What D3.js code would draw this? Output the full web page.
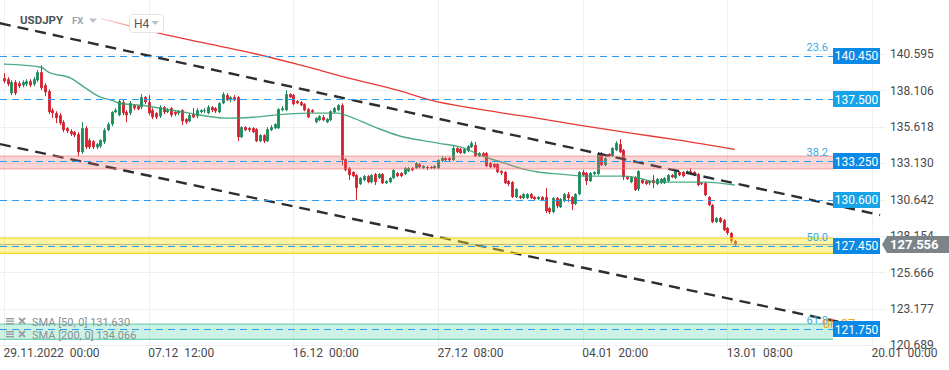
<!DOCTYPE html>
<html>
<head>
<meta charset="utf-8">
<script src="https://cdn.jsdelivr.net/npm/d3@7"></script>
<style>
  body { margin: 0; background: #fff; }
  svg { display: block; font-family: Roboto, "Noto Sans", sans-serif; }
</style>
</head>
<body>
<svg id="chart" width="949" height="370"></svg>
<script>
// USDJPY H4 candles
const opens = [
  138.94, 138.87, 137.91, 138.67, 138.60, 138.46, 138.53, 138.73, 138.53, 138.80,
  139.35, 138.46, 138.05, 136.75, 136.55, 136.41, 135.93, 135.52, 135.32, 135.25,
  135.11, 133.88, 135.52, 134.70, 134.63, 134.22, 134.29, 134.57, 135.39, 135.80,
  136.62, 136.41, 137.30, 136.62, 136.55, 137.09, 137.03, 136.96, 137.64, 137.30,
  136.75, 136.55, 136.34, 136.96, 136.62, 136.89, 136.62, 136.55, 136.75, 136.14,
  136.00, 136.48, 136.34, 136.62, 136.68, 136.55, 136.96, 136.89, 136.62, 137.23,
  137.78, 137.44, 137.64, 137.64, 134.91, 135.59, 135.52, 135.52, 135.45, 134.63,
  135.04, 134.63, 135.39, 135.52, 135.52, 136.75, 136.75, 137.85, 137.78, 137.37,
  137.30, 137.16, 136.82, 136.75, 135.93, 136.07, 136.27, 135.93, 136.07, 136.62,
  136.75, 137.09, 133.40, 132.79, 132.52, 132.31, 131.70, 131.97, 132.24, 131.83,
  132.38, 132.11, 132.38, 131.76, 131.83, 132.11, 132.45, 132.45, 132.38, 132.58,
  132.79, 132.79, 133.06, 132.79, 132.86, 132.86, 132.79, 132.79, 133.27, 133.47,
  133.47, 133.34, 134.16, 134.09, 133.81, 133.95, 134.22, 134.36, 133.61, 133.81,
  133.81, 133.13, 133.06, 133.06, 132.58, 132.52, 131.90, 131.83, 130.81, 130.87,
  130.74, 130.74, 131.01, 130.81, 130.67, 130.81, 130.81, 130.05, 129.78, 130.74,
  130.12, 130.53, 131.01, 130.81, 130.33, 131.01, 132.52, 132.45, 131.90, 132.38,
  132.38, 133.81, 132.99, 133.75, 133.61, 134.02, 134.43, 134.02, 132.17, 131.83,
  132.17, 131.35, 131.97, 131.90, 131.76, 131.97, 131.70, 131.76, 131.76, 131.90,
  132.31, 132.11, 132.52, 132.52, 132.45, 132.58, 132.52, 132.38, 131.76, 131.76,
  130.81, 130.26, 129.10, 129.37, 129.23, 128.69, 128.35, 127.80
];
const highs = [
  139.28, 139.01, 138.80, 138.80, 138.73, 138.80, 138.87, 138.87, 139.01, 139.49,
  139.83, 138.60, 138.19, 136.89, 136.68, 136.55, 136.07, 135.59, 135.45, 135.32,
  135.25, 135.93, 135.66, 134.84, 134.70, 134.50, 134.77, 135.52, 135.93, 136.68,
  136.89, 137.50, 137.44, 136.75, 137.37, 137.16, 137.09, 137.85, 137.71, 137.78,
  136.89, 136.62, 137.09, 137.03, 136.89, 136.96, 136.68, 136.75, 136.82, 136.21,
  136.55, 136.89, 136.89, 136.82, 136.89, 137.09, 137.03, 136.96, 137.30, 137.98,
  137.91, 137.71, 137.78, 137.71, 135.66, 135.66, 135.59, 135.59, 135.52, 135.11,
  135.11, 135.59, 135.73, 135.86, 136.89, 137.03, 138.12, 137.91, 137.85, 137.44,
  137.37, 137.23, 136.89, 136.82, 136.27, 136.41, 136.41, 136.21, 136.75, 136.96,
  137.16, 137.23, 133.47, 132.86, 132.58, 132.38, 132.17, 132.31, 132.31, 132.38,
  132.45, 132.45, 132.45, 131.97, 132.17, 132.72, 132.52, 132.52, 132.86, 132.86,
  132.86, 133.20, 133.13, 132.99, 132.93, 132.93, 132.99, 133.40, 133.61, 133.54,
  133.54, 134.29, 134.22, 134.16, 134.16, 134.36, 134.63, 134.57, 133.88, 133.88,
  133.88, 133.20, 133.13, 133.13, 132.65, 132.58, 131.97, 131.90, 131.42, 130.94,
  131.08, 131.08, 131.08, 130.87, 130.87, 130.87, 131.42, 130.12, 130.81, 130.81,
  130.74, 131.08, 131.15, 130.87, 131.08, 132.58, 132.65, 132.52, 132.52, 132.58,
  133.88, 133.88, 133.54, 133.81, 134.22, 134.63, 134.77, 134.09, 132.24, 132.24,
  132.24, 132.65, 132.04, 131.97, 131.97, 132.31, 132.11, 132.11, 132.17, 132.38,
  132.38, 132.65, 132.58, 132.58, 132.65, 132.79, 132.58, 132.45, 131.83, 131.83,
  130.87, 130.33, 129.44, 129.44, 129.30, 128.76, 128.41, 127.87
];
const lows = [
  138.60, 138.39, 137.78, 137.78, 138.26, 138.32, 138.39, 138.32, 138.39, 138.67,
  138.12, 137.71, 136.48, 136.21, 135.86, 135.73, 135.25, 135.18, 134.98, 134.91,
  133.61, 133.75, 134.09, 134.09, 134.09, 134.09, 134.16, 134.43, 135.32, 135.66,
  136.55, 136.34, 136.41, 135.93, 136.41, 136.75, 136.75, 136.82, 137.16, 136.41,
  136.14, 136.14, 136.21, 136.48, 136.55, 136.27, 136.34, 136.41, 135.73, 135.80,
  135.93, 136.21, 136.21, 136.55, 136.55, 136.48, 136.62, 136.55, 136.55, 137.16,
  137.37, 137.30, 137.37, 134.63, 134.84, 135.32, 135.25, 135.18, 134.57, 134.57,
  134.50, 134.57, 135.32, 135.45, 135.45, 136.68, 136.68, 137.57, 137.09, 137.16,
  137.03, 136.68, 136.21, 136.55, 135.86, 136.00, 136.00, 135.86, 136.00, 136.55,
  136.68, 132.99, 132.58, 131.97, 132.17, 130.60, 131.63, 131.90, 131.76, 131.76,
  131.63, 132.04, 131.70, 131.70, 131.76, 132.04, 132.17, 132.17, 132.31, 132.52,
  132.58, 132.72, 132.79, 132.72, 132.65, 132.72, 132.72, 132.72, 133.20, 133.27,
  133.27, 133.27, 133.81, 133.75, 133.75, 133.88, 134.16, 133.54, 133.54, 133.54,
  132.86, 132.79, 132.79, 132.45, 132.31, 131.70, 131.56, 130.74, 130.74, 130.67,
  130.67, 130.67, 130.67, 130.60, 130.60, 130.53, 129.71, 129.64, 129.71, 130.05,
  130.05, 130.46, 130.46, 129.92, 130.26, 130.94, 132.24, 131.63, 131.83, 132.31,
  132.31, 132.93, 132.93, 133.54, 133.54, 133.95, 133.81, 131.97, 131.97, 131.76,
  131.22, 131.22, 131.70, 131.63, 131.63, 131.42, 131.63, 131.70, 131.70, 131.83,
  132.11, 132.04, 132.24, 132.17, 132.38, 132.38, 132.24, 131.56, 131.63, 130.87,
  130.19, 129.03, 129.03, 129.03, 128.48, 128.21, 127.66, 127.46
];
const closes = [
  138.73, 138.53, 138.67, 137.91, 138.39, 138.67, 138.73, 138.46, 138.87, 139.35,
  138.26, 137.98, 136.62, 136.55, 136.21, 135.86, 135.39, 135.32, 135.11, 135.04,
  133.88, 135.52, 134.22, 134.22, 134.22, 134.43, 134.70, 135.39, 135.80, 136.62,
  136.75, 137.37, 136.55, 136.41, 137.23, 136.89, 136.82, 137.64, 137.30, 136.55,
  136.27, 136.27, 136.96, 136.62, 136.75, 136.41, 136.48, 136.68, 136.00, 135.93,
  136.41, 136.27, 136.75, 136.75, 136.75, 136.96, 136.75, 136.68, 137.23, 137.85,
  137.44, 137.64, 137.44, 134.91, 135.59, 135.39, 135.39, 135.25, 134.63, 135.04,
  134.63, 135.45, 135.59, 135.80, 136.82, 136.89, 137.85, 137.64, 137.16, 137.23,
  137.09, 136.75, 136.27, 136.62, 136.21, 136.34, 136.07, 136.14, 136.68, 136.89,
  137.09, 133.34, 132.65, 132.31, 132.24, 131.42, 132.11, 132.24, 131.83, 132.31,
  131.83, 132.38, 131.76, 131.90, 132.11, 132.65, 132.24, 132.24, 132.79, 132.79,
  132.65, 133.13, 132.86, 132.93, 132.79, 132.79, 132.93, 133.34, 133.47, 133.34,
  133.34, 134.16, 133.88, 133.81, 134.09, 134.29, 134.50, 133.61, 133.81, 133.61,
  132.93, 132.86, 132.86, 132.52, 132.45, 131.76, 131.70, 130.81, 131.35, 130.74,
  131.01, 131.01, 130.74, 130.67, 130.81, 130.60, 129.85, 129.78, 130.74, 130.19,
  130.67, 131.01, 130.74, 130.33, 131.01, 132.52, 132.31, 131.90, 132.45, 132.52,
  133.81, 132.99, 133.47, 133.61, 134.16, 134.50, 133.88, 132.17, 132.04, 132.17,
  131.29, 132.58, 131.76, 131.70, 131.90, 131.76, 132.04, 132.04, 132.11, 132.31,
  132.17, 132.58, 132.31, 132.24, 132.58, 132.45, 132.31, 131.63, 131.70, 130.94,
  130.26, 129.10, 129.37, 129.10, 128.55, 128.35, 127.80, 127.556
];

// moving averages, sampled along the lines [candle index, price]
const sma50Idx = [0, 10, 12, 18, 22, 26, 29, 31, 37, 42, 47, 50, 60, 67, 76, 83, 90, 92, 100, 106, 117, 124, 129, 135, 139, 144, 150, 157, 167, 171, 176, 184, 189, 197];
const sma50Vals = [139.90, 139.69, 139.35, 138.94, 138.26, 137.64, 137.44, 137.23, 137.09, 136.89, 136.68, 136.55, 136.21, 136.27, 136.48, 136.55, 136.55, 136.41, 135.59, 135.04, 134.50, 134.16, 133.61, 133.13, 132.79, 132.52, 132.38, 132.24, 132.24, 132.11, 131.83, 131.83, 131.83, 131.63];
const sma200Idx = [26, 42, 53, 66, 80, 93, 107, 115, 128, 142, 155, 169, 182, 197];
const sma200Vals = [143.04, 142.01, 141.40, 140.71, 139.83, 138.94, 138.05, 137.44, 136.82, 136.27, 135.73, 135.18, 134.70, 134.07];

// drawn trend channel [candle index, price]
const trendUpper = [[-1.1, 142.70], [236.2, 129.58]];
const trendLower = [[-1.1, 134.43], [236.2, 121.67]];

// horizontal levels and zones
const levels = [140.450, 137.500, 133.250, 130.600, 127.450, 121.750];
const fibNames = ['23.6', '38.2', '50.0', '61.8'];
const fibPrices = [140.450, 133.250, 127.450, 121.750];
const zonePink = [133.61, 132.74];
const zoneYellow = [128.00, 126.96];
const zoneGreen = [122.12, 121.07];
const lastPrice = 127.556;

const priceTicks = [140.595, 138.106, 135.618, 133.130, 130.642, 128.154, 125.666, 123.177, 120.689];
const timeIdx = [0, 39, 78, 117, 156, 195, 234];
const timeLabels = ['29.11.2022  00:00', '07.12  12:00', '16.12  00:00', '27.12  08:00', '04.01  20:00', '13.01  08:00', '20.01  00:00'];

const legendRows = ['SMA [50, 0] 131.630', 'SMA [200, 0] 134.066'];

const UP = '#1a8a5b', DOWN = '#d3202d';

function drawChart() {
  let svg = d3.select('#chart');
  let x = d3.scaleLinear().domain([0, 234]).range([4, 872]);
  let y = d3.scaleLinear().domain([120.689, 140.595]).range([345, 54]);

  // grid
  let grid = svg.append('g').attr('stroke', '#efefef').attr('stroke-width', 1);
  priceTicks.forEach(p => {
    let yy = Math.round(y(p)) + 0.5;
    grid.append('line').attr('x1', 0).attr('x2', 886).attr('y1', yy).attr('y2', yy);
  });
  timeIdx.forEach(t => {
    let xx = Math.round(x(t)) + 0.5;
    grid.append('line').attr('x1', xx).attr('x2', xx).attr('y1', 0).attr('y2', 348);
  });

  // price axis
  let yAxis = svg.append('g').attr('transform', 'translate(886,0)')
    .call(d3.axisRight(y).tickValues(priceTicks).tickSize(0).tickPadding(4).tickFormat(d => d.toFixed(3)));
  yAxis.select('.domain').remove();
  yAxis.selectAll('text').attr('font-size', 12).attr('font-family', 'Roboto, sans-serif').attr('fill', '#4a4a4a');

  // time axis
  let xAxis = svg.append('g').attr('transform', 'translate(0,346)')
    .call(d3.axisBottom(x).tickValues(timeIdx).tickSize(0).tickPadding(2).tickFormat((d, i) => timeLabels[i]));
  xAxis.select('.domain').remove();
  xAxis.selectAll('text').attr('text-anchor', 'start').attr('dx', -1)
    .attr('font-size', 12).attr('font-family', 'Roboto, sans-serif').attr('fill', '#4a4a4a')
    .style('white-space', 'pre');

  // candles
  let candles = svg.append('g');
  closes.forEach((c, i) => {
    let o = opens[i];
    let color = c >= o ? UP : DOWN;
    let cx = Math.round(x(i)) + 0.5;
    candles.append('line').attr('x1', cx).attr('x2', cx)
      .attr('y1', y(highs[i])).attr('y2', y(lows[i]))
      .attr('stroke', color).attr('stroke-width', 1);
    let top = y(Math.max(o, c));
    let h = Math.max(1, Math.abs(y(o) - y(c)));
    candles.append('rect').attr('x', cx - 1.4).attr('width', 2.8)
      .attr('y', top).attr('height', h).attr('fill', color);
  });

  // moving averages
  let line = d3.line().x(d => x(d[0])).y(d => y(d[1])).curve(d3.curveMonotoneX);
  let defs = svg.append('defs');
  let grad = defs.append('linearGradient').attr('id', 'fadeRed')
    .attr('gradientUnits', 'userSpaceOnUse')
    .attr('x1', x(26)).attr('x2', x(44)).attr('y1', 0).attr('y2', 0);
  grad.append('stop').attr('offset', 0).attr('stop-color', '#e53935').attr('stop-opacity', 0.15);
  grad.append('stop').attr('offset', 1).attr('stop-color', '#e53935').attr('stop-opacity', 1);

  svg.append('path').datum(d3.zip(sma200Idx, sma200Vals)).attr('d', line)
    .attr('fill', 'none').attr('stroke', 'url(#fadeRed)').attr('stroke-width', 1.3);
  svg.append('path').datum(d3.zip(sma50Idx, sma50Vals)).attr('d', line)
    .attr('fill', 'none').attr('stroke', '#2f9e6f').attr('stroke-width', 1.4).attr('stroke-opacity', 0.85);

  // trend channel
  [trendUpper, trendLower].forEach(tl => {
    svg.append('line')
      .attr('x1', x(tl[0][0])).attr('y1', y(tl[0][1]))
      .attr('x2', x(tl[1][0])).attr('y2', y(tl[1][1]))
      .attr('stroke', '#2b2f33').attr('stroke-width', 2.4).attr('stroke-dasharray', '11,7');
  });

  // zones drawn over the candles
  let zones = [[zonePink, 'rgba(242,105,105,0.27)', 'rgba(238,120,120,0.55)'],
               [zoneYellow, 'rgba(255,228,30,0.42)', 'rgba(240,215,20,0.9)'],
               [zoneGreen, 'rgba(40,200,150,0.24)', 'rgba(70,195,155,0.7)']];
  zones.forEach(z => {
    let y0 = y(z[0][0]), y1 = y(z[0][1]);
    svg.append('rect').attr('x', 0).attr('width', 833).attr('y', y0).attr('height', y1 - y0).attr('fill', z[1]);
    [y0, y1].forEach(yy => {
      svg.append('line').attr('x1', 0).attr('x2', 833).attr('y1', yy).attr('y2', yy)
        .attr('stroke', z[2]).attr('stroke-width', 1.2);
    });
  });

  // last price line
  svg.append('line').attr('x1', 0).attr('x2', 880).attr('y1', y(lastPrice)).attr('y2', y(lastPrice))
    .attr('stroke', '#9a9f86').attr('stroke-width', 0.8);

  // level lines
  levels.forEach(l => {
    let yy = Math.round(y(l)) + 0.5;
    svg.append('line').attr('x1', 0).attr('x2', 833).attr('y1', yy).attr('y2', yy)
      .attr('stroke', '#2a9df0').attr('stroke-width', 1.2).attr('stroke-dasharray', '7,5');
  });

  // fib level names
  fibPrices.forEach((p, i) => {
    svg.append('text').attr('x', 828).attr('y', y(p) - 5).attr('text-anchor', 'end')
      .attr('font-size', 11).attr('fill', '#3aa8e6').text(fibNames[i]);
  });

  // countdown, mostly hidden by the label
  svg.append('text').attr('x', 823).attr('y', y(121.75) - 1).attr('font-size', 13)
    .attr('fill', '#f5a020').text('0h 07m');

  // level labels
  levels.forEach(l => {
    let yy = y(l);
    let light = (l === 137.5 || l === 130.6);
    svg.append('rect').attr('x', 833).attr('y', Math.round(yy) - 8).attr('width', 47).attr('height', 16)
      .attr('fill', light ? '#16a3e8' : '#0b89e6');
    svg.append('text').attr('x', 856.5).attr('y', yy + 4.3).attr('text-anchor', 'middle')
      .attr('font-size', 12).attr('fill', '#fff').text(l.toFixed(3));
  });

  // current price tag
  let ly = y(lastPrice);
  svg.append('path')
    .attr('d', `M882,${ly} L887,${ly - 8.5} L949,${ly - 8.5} L949,${ly + 8.5} L887,${ly + 8.5} Z`)
    .attr('fill', '#7c8489');
  svg.append('text').attr('x', 890).attr('y', ly + 4.5).attr('font-size', 13).attr('font-weight', 'bold')
    .attr('fill', '#fff').text(lastPrice.toFixed(3));

  drawHeader(svg);
  drawLegend(svg);
}

function drawHeader(svg) {
  svg.append('text').attr('x', 20).attr('y', 24).attr('font-size', 11.5).attr('font-weight', 'bold')
    .attr('fill', '#4d5358').text('USDJPY');
  svg.append('text').attr('x', 72).attr('y', 24).attr('font-size', 9.5).attr('font-weight', 'bold')
    .attr('fill', '#9aa5b1').text('FX');
  svg.append('path').attr('d', 'M89,18.5 L97,18.5 L93,23 Z').attr('fill', '#b9c0c7');
  svg.append('rect').attr('x', 129.5).attr('y', 14.5).attr('width', 34).attr('height', 18).attr('rx', 3)
    .attr('fill', '#fff').attr('stroke', '#e2e4e6');
  svg.append('text').attr('x', 134).attr('y', 27.5).attr('font-size', 12).attr('fill', '#555').text('H4');
  svg.append('path').attr('d', 'M151.5,21 L159,21 L155.2,25 Z').attr('fill', '#b9c0c7');
}

function drawLegend(svg) {
  legendRows.forEach((row, i) => {
    let yy = 322 + i * 13;
    let g = svg.append('g').attr('fill', '#9a9ea2');
    [0, 2.5, 5].forEach(d => g.append('rect').attr('x', 6).attr('y', yy - 4 + d).attr('width', 8).attr('height', 1.4));
    svg.append('path').attr('d', `M19,${yy - 4} L25,${yy + 2} M25,${yy - 4} L19,${yy + 2}`)
      .attr('stroke', '#9a9ea2').attr('stroke-width', 1.8);
    svg.append('text').attr('x', 32).attr('y', yy + 3.5).attr('font-size', 11).attr('fill', '#8a8f94').text(row);
  });
}

drawChart();
</script>
</body>
</html>
